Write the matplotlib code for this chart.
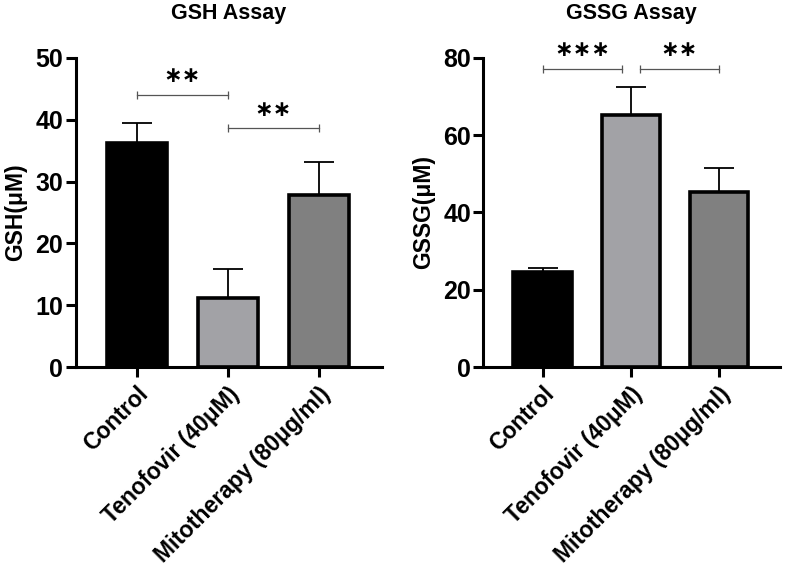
import matplotlib.pyplot as plt
import numpy as np

plt.rcParams['font.family'] = ['Liberation Sans', 'DejaVu Sans']
plt.rcParams['font.weight'] = 'bold'

groups = ['Control', 'Tenofovir (40μM)', 'Mitotherapy (80μg/ml)']
colors = ['#000000', '#a2a2a6', '#808080']

gsh = [36.3, 11.1, 27.8]
gsh_err = [3.1, 4.8, 5.4]
gssg = [24.7, 65.3, 45.3]
gssg_err = [0.9, 7.2, 6.3]

# significance brackets: (x1, x2, y, stars, star_y)
gsh_sig = [(0, 1, 44.0, '∗∗', 47.1), (1, 2, 38.6, '∗∗', 41.6)]
gssg_sig = [(0, 0.9, 77.1, '∗∗∗', 82.0), (1.1, 2, 77.1, '∗∗', 82.0)]

fig = plt.figure(figsize=(7.9, 5.73), dpi=100)
ax1 = fig.add_axes([0.096, 0.3595, 0.387, 0.5395])
ax2 = fig.add_axes([0.612, 0.3595, 0.375, 0.5395])


def panel(ax, vals, errs, sig, ymax, step, title, ylabel):
    x = np.arange(len(vals))
    ax.bar(x, vals, width=0.66, color=colors, edgecolor='black', linewidth=2.6, zorder=2)
    ax.errorbar(x, vals, yerr=[np.zeros(len(errs)), errs], fmt='none', ecolor='black',
                elinewidth=1.3, capsize=11, capthick=1.3, zorder=1)
    for x1, x2, y, s, sy in sig:
        ax.plot([x1, x2], [y, y], color='#555555', lw=0.9, marker='|', ms=6, mew=0.9, clip_on=False)
        ax.text((x1 + x2) / 2, sy, s, ha='center', va='center', fontsize=16,
                fontweight='bold', family=['DejaVu Sans'], clip_on=False)
    ax.set_xlim(-0.67, 2.69)
    ax.set_ylim(0, ymax)
    ax.set_yticks(np.arange(0, ymax + 1, step))
    ax.set_xticks(x)
    ax.set_xticklabels(groups, rotation=45, ha='right', rotation_mode='anchor',
                       fontsize=16.5, fontweight='bold')
    ax.tick_params(axis='y', labelsize=18, width=2.2, length=7, pad=2)
    ax.tick_params(axis='x', width=2.2, length=7, pad=4)
    for lab in ax.get_yticklabels():
        lab.set_fontweight('bold')
    ax.spines['top'].set_visible(False)
    ax.spines['right'].set_visible(False)
    ax.spines['left'].set_linewidth(2.2)
    ax.spines['bottom'].set_linewidth(2.2)
    ax.set_title(title, fontsize=15.5, fontweight='bold', pad=28)
    ax.set_ylabel(ylabel, fontsize=16.5, fontweight='bold', labelpad=6)


panel(ax1, gsh, gsh_err, gsh_sig, 50, 10, 'GSH Assay', 'GSH(μM)')
panel(ax2, gssg, gssg_err, gssg_sig, 80, 20, 'GSSG Assay', 'GSSG(μM)')

fig.savefig('out.png', dpi=100)
